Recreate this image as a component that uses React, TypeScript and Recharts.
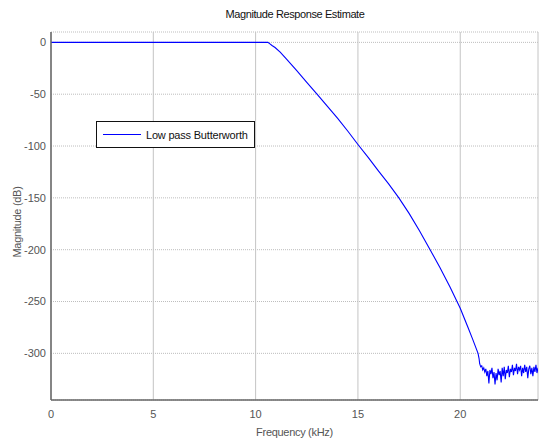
import { CartesianGrid, Line, LineChart, XAxis, YAxis } from 'recharts'

// frequency (kHz) and magnitude (dB)
const FREQ = [
  0, 10.5, 10.6, 10.7, 10.8, 10.95, 11.2, 11.5, 12.0, 12.5, 13.0, 13.5, 14.0, 14.5,
  15.0, 15.5, 16.0, 16.5, 17.0, 17.5, 18.0, 18.5, 19.0, 19.5, 20.0, 20.38, 20.6, 20.87,
  20.92, 20.95, 21.0, 21.05, 21.1, 21.15, 21.2, 21.25, 21.3, 21.35, 21.4, 21.45, 21.5,
  21.55, 21.6, 21.65, 21.7, 21.75, 21.8, 21.85, 21.9, 21.95, 22.0, 22.05, 22.1, 22.15,
  22.2, 22.25, 22.3, 22.35, 22.4, 22.45, 22.5, 22.55, 22.6, 22.65, 22.7, 22.75, 22.8,
  22.85, 22.9, 22.95, 23.0, 23.05, 23.1, 23.15, 23.2, 23.25, 23.3, 23.35, 23.4, 23.45,
  23.5, 23.55, 23.6, 23.65, 23.7, 23.75, 23.8,
]
const MAG = [
  0, 0, 0, -1.5, -3, -5, -9.5, -16, -27, -38.5, -50, -61.5, -73, -85.5,
  -98.5, -111, -124, -136.5, -150, -165, -181.5, -199, -217, -236, -256.5, -275, -286, -300,
  -305, -310, -313, -312, -316, -314, -318, -315, -322, -317, -329, -316, -320,
  -314, -324, -318, -330, -319, -326, -315, -321, -317, -328, -314, -322, -313,
  -325, -316, -319, -312, -323, -315, -318, -311, -321, -314, -317, -310, -320,
  -313, -316, -312, -322, -314, -319, -311, -318, -313, -324, -315, -312, -320,
  -314, -322, -313, -318, -311, -319, -314,
]

const X_TICKS = [0, 5, 10, 15, 20]
const Y_TICKS = [0, -50, -100, -150, -200, -250, -300]
const SERIES_NAME = 'Low pass Butterworth'

const data = FREQ.map((f, i) => ({ f, mag: MAG[i] }))

const FONT = '"Liberation Sans", Arial, sans-serif'
const tickStyle = { fontSize: 11, fill: '#555', fontFamily: FONT }

function LegendBox() {
  return (
    <div
      style={{
        position: 'absolute', left: 96, top: 121,
        boxSizing: 'border-box',
        border: '1.5px solid #111',
        background: '#fff',
        width: 159,
        height: 27,
        display: 'flex',
        alignItems: 'center',
        fontFamily: FONT,
        fontSize: 11,
        letterSpacing: -0.2,
        color: '#111',
      }}
    >
      <span style={{ display: 'inline-block', width: 38, height: 1, background: '#0000ff', margin: '0 5px 0 6px' }} />
      {SERIES_NAME}
    </div>
  )
}

export default function App() {
  return (
    <div style={{ position: 'absolute', left: 0, top: 0, width: 539, height: 440, background: '#fff' }}>
      <div
        style={{
          position: 'absolute', left: 0, top: 8, width: 590, textAlign: 'center',
          fontFamily: FONT, fontSize: 11, letterSpacing: -0.4, color: '#111',
        }}
      >
        Magnitude Response Estimate
      </div>
      <LineChart width={539} height={440} data={data} margin={{ top: 32, right: 1, left: 0, bottom: 0 }}>
        <CartesianGrid vertical={false} stroke="#bdbdbd" strokeDasharray="1 1" />
        <CartesianGrid horizontal={false} stroke="#c4c4c4" />
        <XAxis
          type="number"
          dataKey="f"
          domain={[0, 23.8]}
          ticks={X_TICKS}
          allowDataOverflow
          tick={tickStyle}
          tickLine={false}
          tickSize={6}
          tickMargin={4}
          height={40}
          axisLine={{ stroke: '#666', strokeWidth: 1.5 }}
          label={{ value: 'Frequency (kHz)', position: 'insideBottom', offset: 4, style: { ...tickStyle, letterSpacing: -0.3 } }}
        />
        <XAxis xAxisId="top" orientation="top" type="number" domain={[0, 23.8]} tick={false} tickLine={false} height={0} axisLine={{ stroke: '#777', strokeWidth: 1.5 }} />
        <YAxis
          type="number"
          domain={[-345, 10]}
          ticks={Y_TICKS}
          allowDataOverflow
          tick={tickStyle}
          tickLine={false}
          tickSize={3}
          tickMargin={2}
          width={51}
          axisLine={{ stroke: '#666', strokeWidth: 1.5 }}
          label={({ viewBox }: any) => (
            <text
              x={viewBox.x + 21}
              y={viewBox.y + viewBox.height / 2 + 6}
              transform={`rotate(-90 ${viewBox.x + 21} ${viewBox.y + viewBox.height / 2 + 6})`}
              textAnchor="middle"
              style={{ ...tickStyle, letterSpacing: -0.3 }}
            >
              Magnitude (dB)
            </text>
          )}
        />
        <Line
          type="linear"
          dataKey="mag"
          name={SERIES_NAME}
          stroke="#0000ff"
          strokeWidth={1.1}
          dot={false}
          activeDot={false}
          isAnimationActive={false}
        />
      </LineChart>
      <LegendBox />
    </div>
  )
}
